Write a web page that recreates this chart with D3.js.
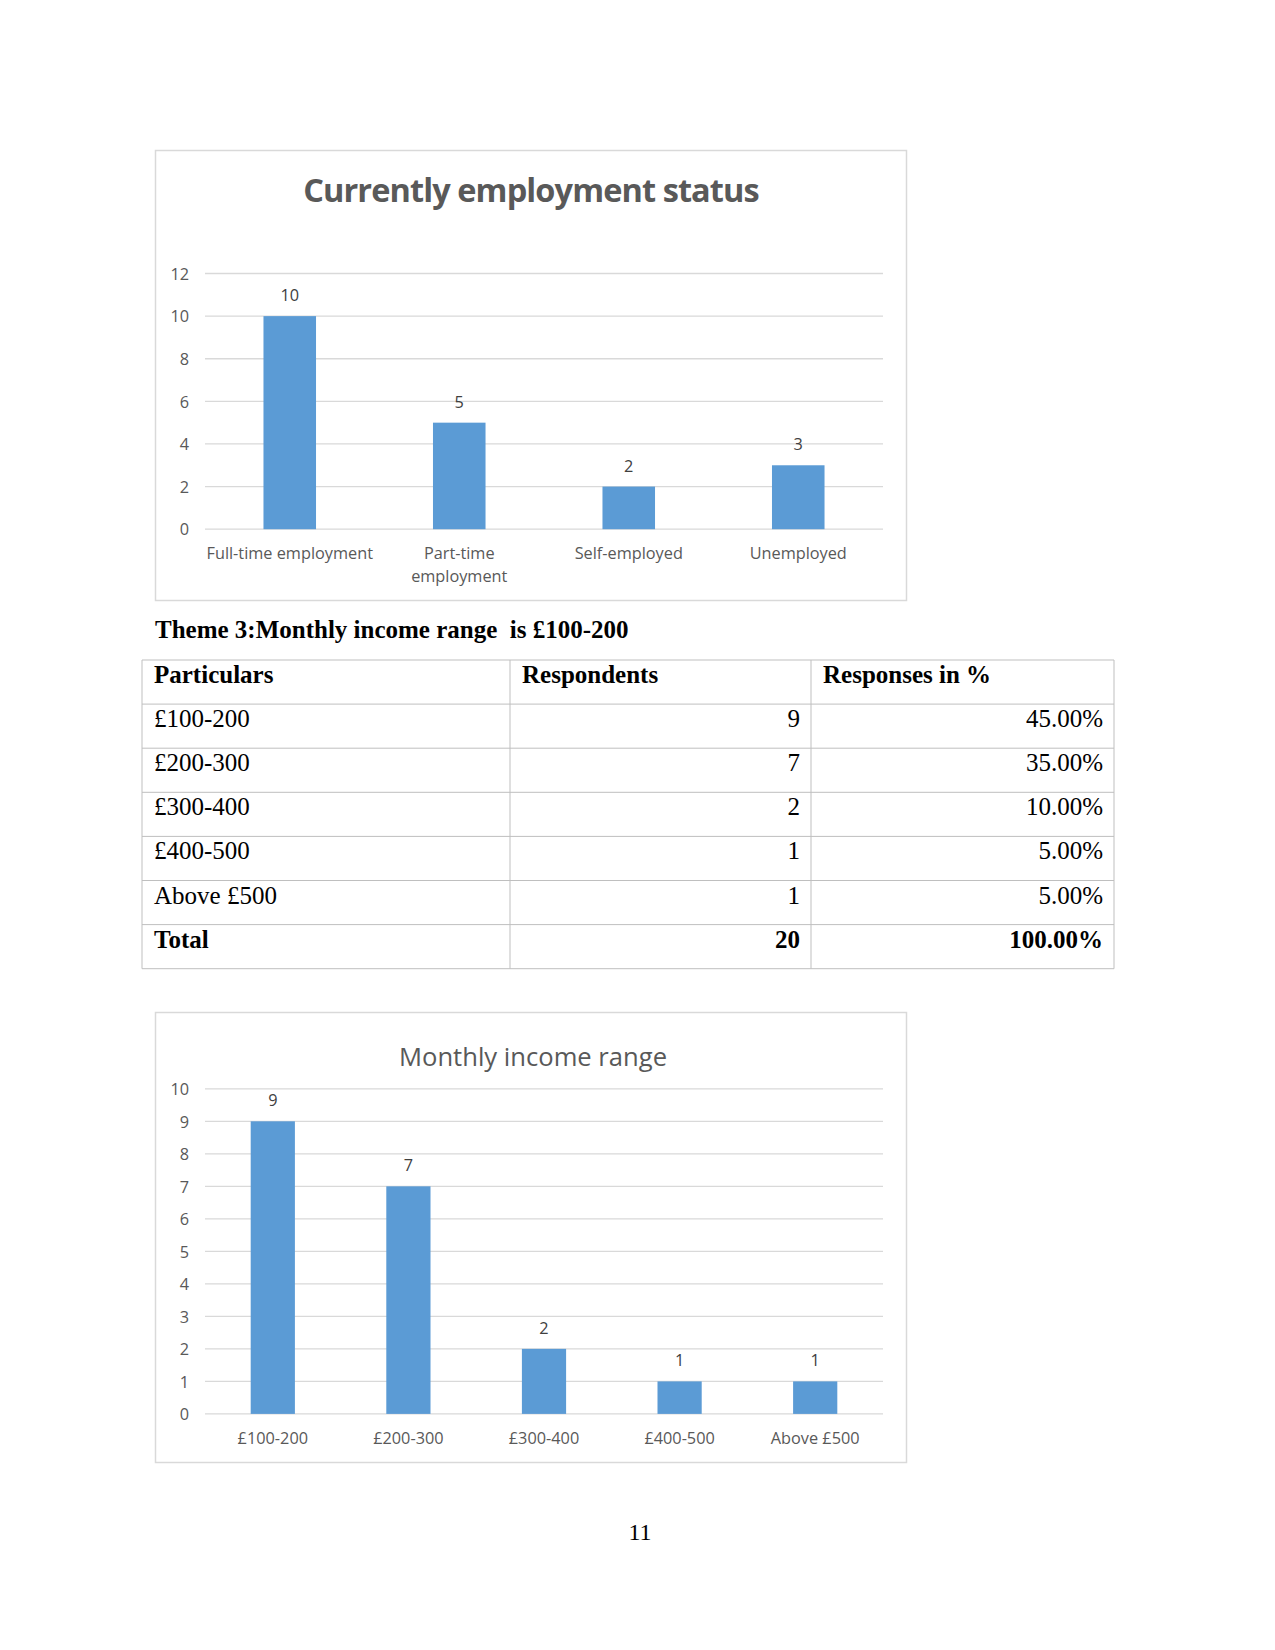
<!DOCTYPE html>
<html><head><meta charset="utf-8">
<script src="https://cdn.jsdelivr.net/npm/d3@7/dist/d3.min.js"></script>
<style>
html,body{margin:0;padding:0;background:#fff;}
svg{display:block;}
</style></head>
<body>
<svg id="page" width="1275" height="1650"></svg>
<script>
// ---- Data ----
const empCategories = ["Full-time employment", "Part-time employment", "Self-employed", "Unemployed"];
const empTickLabels = [["Full-time employment"], ["Part-time", "employment"], ["Self-employed"], ["Unemployed"]];
const empValues = [10, 5, 2, 3];
const empYTicks = [0, 2, 4, 6, 8, 10, 12];

const incomeCategories = ["£100-200", "£200-300", "£300-400", "£400-500", "Above £500"];
const incomeValues = [9, 7, 2, 1, 1];
const incomePercents = ["45.00%", "35.00%", "10.00%", "5.00%", "5.00%"];
const incomeYTicks = [0, 1, 2, 3, 4, 5, 6, 7, 8, 9, 10];
const tableHeaders = ["Particulars", "Respondents", "Responses in %"];
const totalLabel = "Total";
const totalRespondents = "20";
const totalPercent = "100.00%";

const svg = d3.select("#page");
const chartFont = "'Open Sans', 'Noto Sans', sans-serif";
const serif = "'Liberation Serif', 'Times New Roman', serif";
const barColor = "#5B9BD5";
const gridColor = "#D9D9D9";
const textColor = "#595959";
const labelSize = 16.3;

function barChart(opt) {
  const g = svg.append("g");
  // frame
  g.append("rect").attr("x", opt.box[0] + 0.5).attr("y", opt.box[1] + 0.5)
    .attr("width", opt.box[2]).attr("height", opt.box[3])
    .attr("fill", "#fff").attr("stroke", "#D9D9D9").attr("stroke-width", 1.5);
  // title
  g.append("text").attr("x", opt.titleX).attr("y", opt.titleY)
    .attr("text-anchor", "middle").attr("fill", opt.titleColor)
    .attr("font-family", chartFont).attr("font-size", opt.titleSize)
    .attr("font-weight", opt.titleWeight)
    .attr("letter-spacing", opt.titleSpacing || 0)
    .text(opt.title);

  const x = d3.scaleBand().domain(opt.categories).range([opt.left, opt.right]).padding(0);
  const y = d3.scaleLinear().domain([0, d3.max(opt.yTicks)]).range([opt.bottom, opt.top]);

  // grid
  g.append("g").selectAll("line").data(opt.yTicks).join("line")
    .attr("x1", opt.left).attr("x2", opt.right)
    .attr("y1", d => y(d)).attr("y2", d => y(d))
    .attr("stroke", gridColor).attr("stroke-width", 1.3);

  // y axis labels
  const yAxis = d3.axisLeft(y).tickValues(opt.yTicks).tickSize(0).tickPadding(0);
  const ya = g.append("g").attr("transform", `translate(${opt.left - 16},0)`).call(yAxis);
  ya.select(".domain").remove();
  ya.selectAll("text").attr("font-family", chartFont).attr("font-size", labelSize).attr("fill", textColor)
    .attr("dy", "0.35em");

  // bars
  const bw = x.bandwidth() * opt.barFrac;
  g.append("g").selectAll("rect").data(opt.values).join("rect")
    .attr("x", (d, i) => x(opt.categories[i]) + (x.bandwidth() - bw) / 2)
    .attr("width", bw)
    .attr("y", d => y(d)).attr("height", d => y(0) - y(d))
    .attr("fill", barColor);

  // data labels
  g.append("g").selectAll("text").data(opt.values).join("text")
    .attr("x", (d, i) => x(opt.categories[i]) + x.bandwidth() / 2)
    .attr("y", d => y(d) - 15)
    .attr("text-anchor", "middle").attr("font-family", chartFont).attr("font-size", labelSize)
    .attr("fill", "#404040").text(d => d);

  // x labels
  const xl = g.append("g").selectAll("text").data(opt.categories).join("text")
    .attr("x", d => x(d) + x.bandwidth() / 2)
    .attr("y", opt.bottom + 30)
    .attr("text-anchor", "middle").attr("font-family", chartFont).attr("font-size", labelSize)
    .attr("fill", textColor);
  xl.each(function(d, i) {
    const lines = opt.tickLabels ? opt.tickLabels[i] : [d];
    d3.select(this).selectAll("tspan").data(lines).join("tspan")
      .attr("x", x(d) + x.bandwidth() / 2)
      .attr("dy", (l, j) => j === 0 ? 0 : 23)
      .text(l => l);
  });
}

barChart({
  box: [155, 150, 751, 450],
  title: "Currently employment status", titleX: 531, titleY: 202, titleSize: 32.5, titleWeight: 700,
  titleColor: "#595959", titleSpacing: -0.9,
  categories: empCategories, tickLabels: empTickLabels, values: empValues, yTicks: empYTicks,
  left: 205, right: 883, top: 273.5, bottom: 529.2, barFrac: 0.31
});

// ---- Heading ----
svg.append("text").attr("x", 155).attr("y", 638)
  .attr("font-family", serif).attr("font-weight", 700).attr("font-size", 25).attr("fill", "#000")
  .attr("xml:space", "preserve")
  .text("Theme 3:Monthly income range  is £100-200");

// ---- Table ----
const colX = [142, 510, 811, 1114];
const rowTop = 660, rowH = 44.1;
const rows = [tableHeaders]
  .concat(incomeCategories.map((c, i) => [c, String(incomeValues[i]), incomePercents[i]]))
  .concat([[totalLabel, totalRespondents, totalPercent]]);
const tg = svg.append("g");
// borders
tg.append("g").selectAll("line.h").data(d3.range(rows.length + 1)).join("line")
  .attr("x1", colX[0]).attr("x2", colX[3])
  .attr("y1", i => rowTop + i * rowH).attr("y2", i => rowTop + i * rowH)
  .attr("stroke", "#BFBFBF").attr("stroke-width", 1);
tg.append("g").selectAll("line.v").data(colX).join("line")
  .attr("x1", d => d).attr("x2", d => d)
  .attr("y1", rowTop).attr("y2", rowTop + rows.length * rowH)
  .attr("stroke", "#BFBFBF").attr("stroke-width", 1);
rows.forEach((r, ri) => {
  const bold = ri === 0 || ri === rows.length - 1;
  r.forEach((cell, ci) => {
    const rightAlign = ri !== 0 && ci > 0;
    tg.append("text")
      .attr("x", rightAlign ? colX[ci + 1] - 11 : colX[ci] + 12)
      .attr("y", rowTop + ri * rowH + 23)
      .attr("text-anchor", rightAlign ? "end" : "start")
      .attr("font-family", serif).attr("font-size", 25)
      .attr("font-weight", bold ? 700 : 400).attr("fill", "#000")
      .text(cell);
  });
});

barChart({
  box: [155, 1012, 751, 450],
  title: "Monthly income range", titleX: 533, titleY: 1066, titleSize: 25.6, titleWeight: 400,
  titleColor: "#595959",
  categories: incomeCategories, values: incomeValues, yTicks: incomeYTicks,
  left: 205, right: 883, top: 1088.8, bottom: 1413.9, barFrac: 0.326
});

// ---- Page number ----
svg.append("text").attr("x", 640).attr("y", 1540).attr("text-anchor", "middle")
  .attr("font-family", serif).attr("font-size", 24).attr("fill", "#000").text("11");
</script>
</body></html>
